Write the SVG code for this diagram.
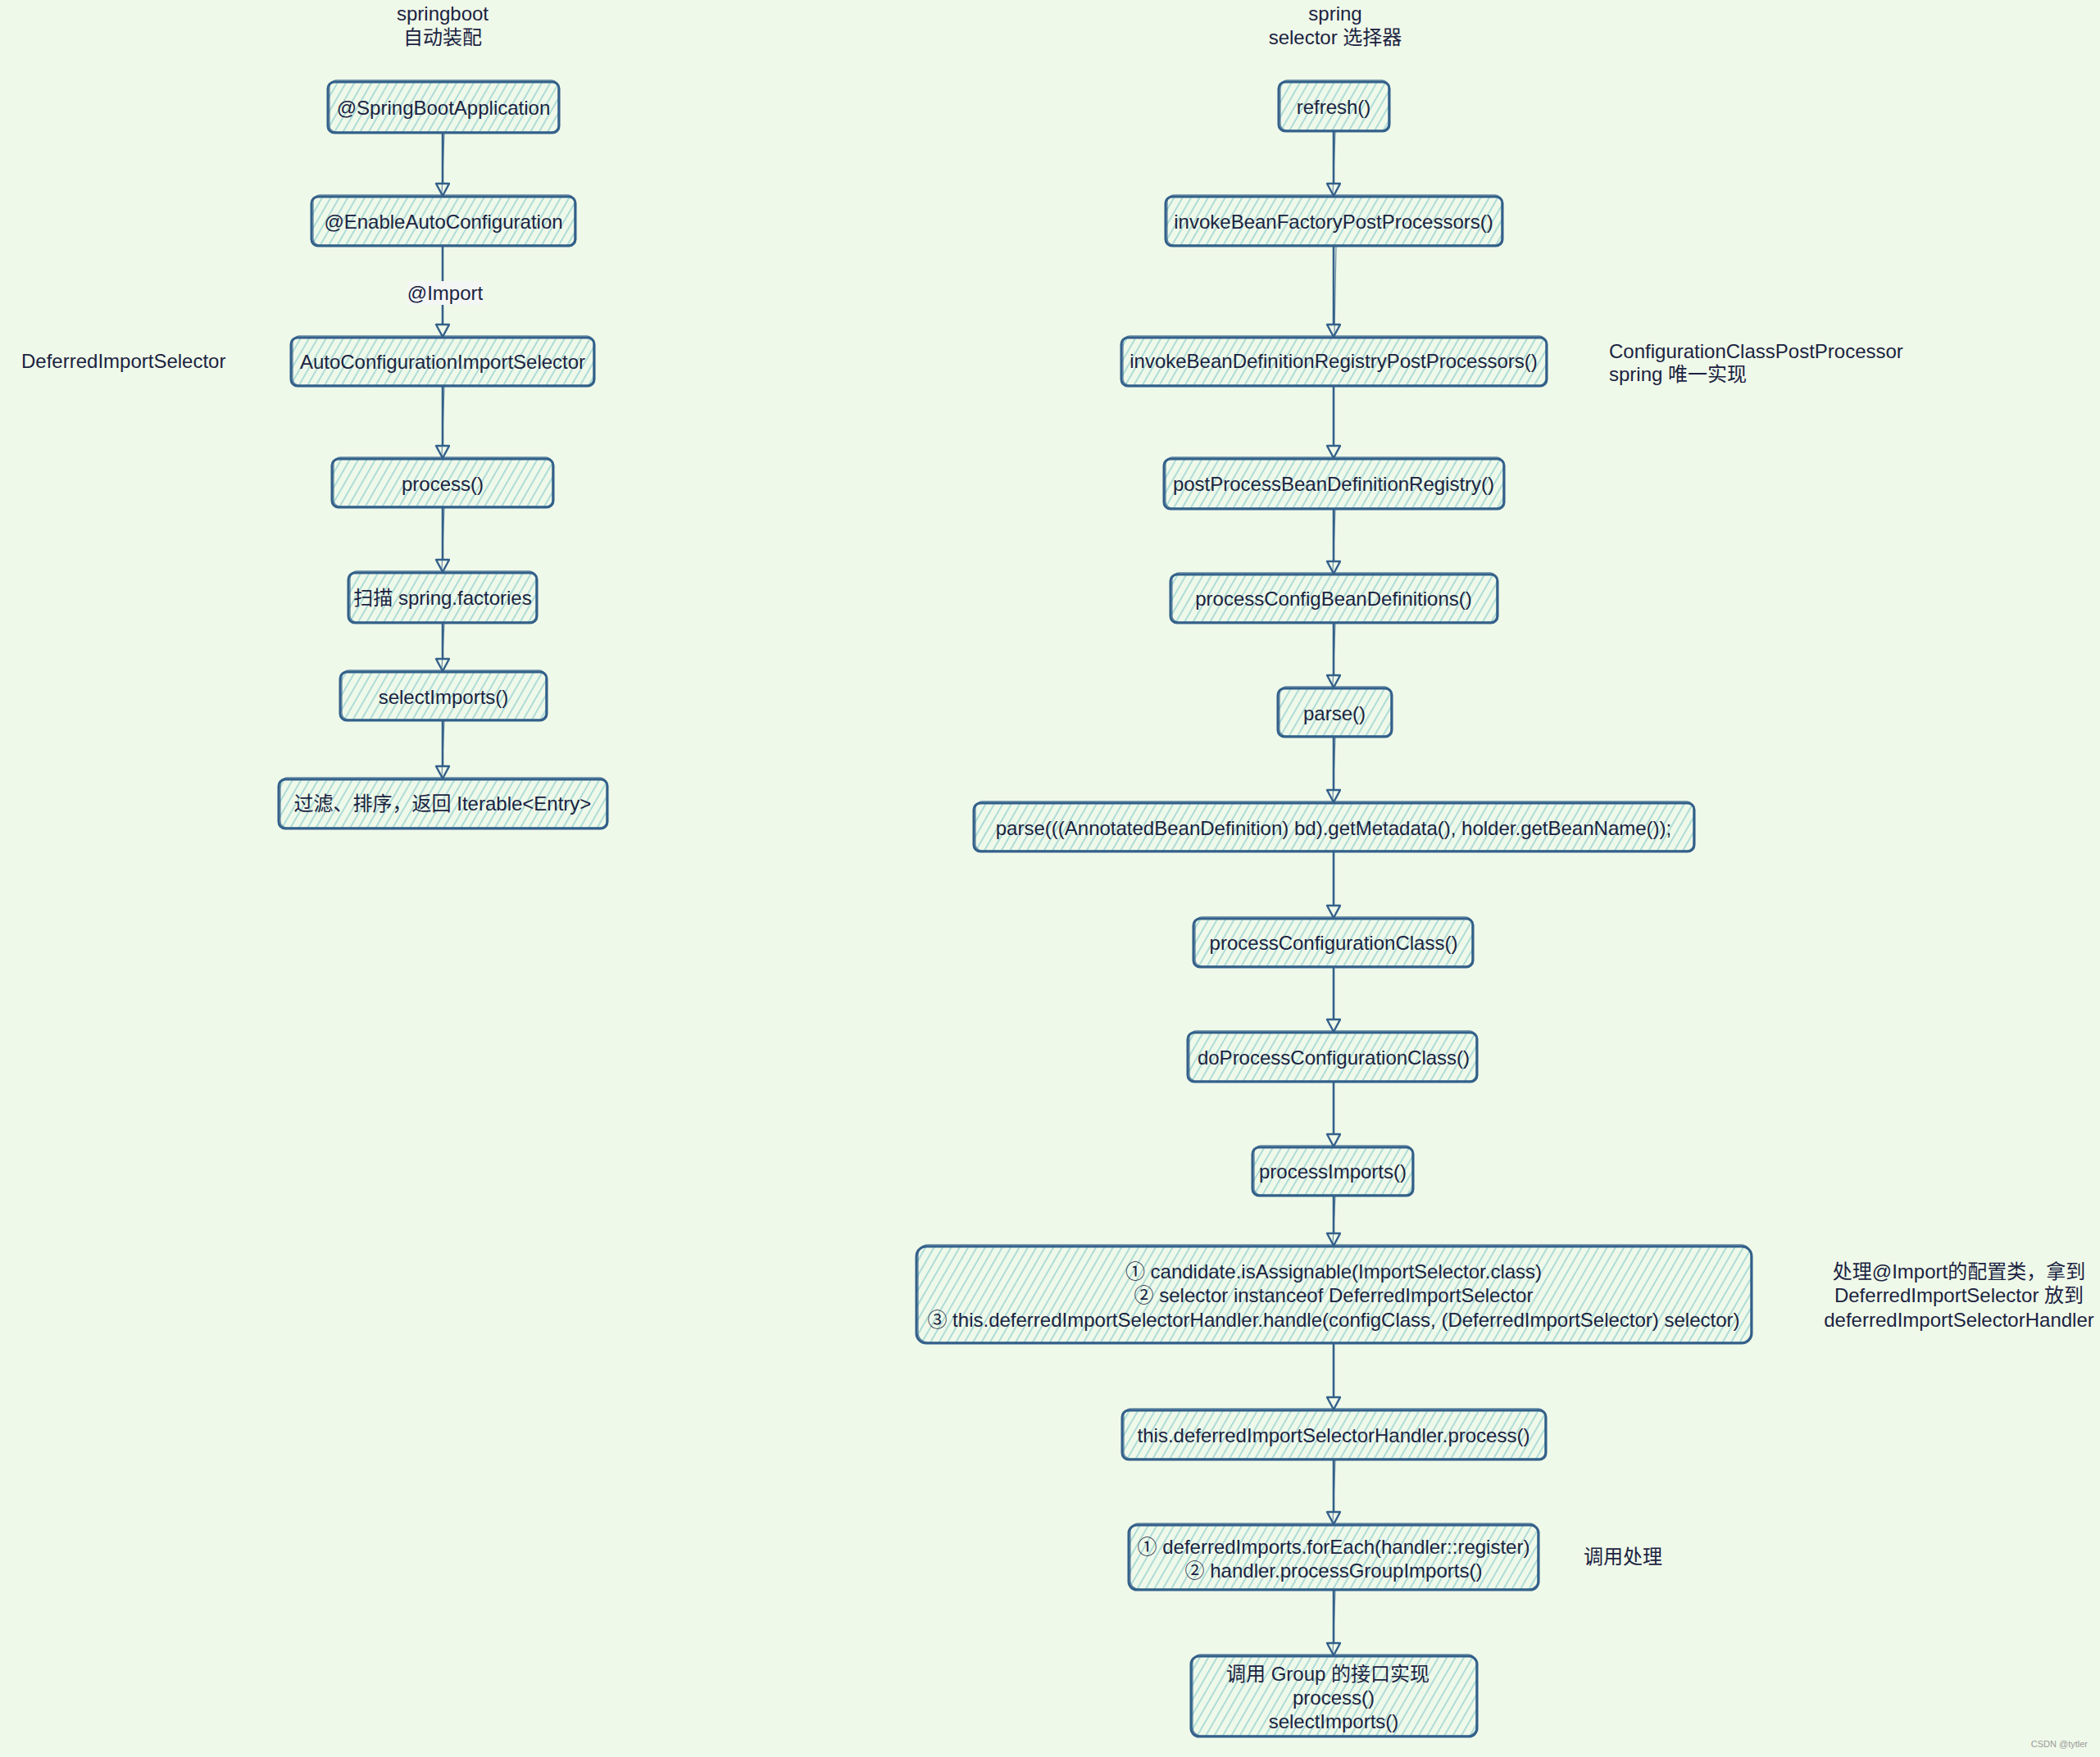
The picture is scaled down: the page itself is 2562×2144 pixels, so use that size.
<svg xmlns="http://www.w3.org/2000/svg" width="2562" height="2144" viewBox="0 0 2562 2144">
<defs>
<pattern id="hatch" patternUnits="userSpaceOnUse" width="9" height="9" patternTransform="rotate(30)">
<line x1="2" y1="0" x2="2" y2="9" stroke="#9dd5d3" stroke-width="1.6"/>
</pattern>
<marker id="arr" markerUnits="userSpaceOnUse" markerWidth="22" markerHeight="22" refX="17" refY="9" orient="auto">
<path d="M2,1 L17,9 L2,17 Z" fill="#eff9e9" stroke="#33608a" stroke-width="2.4" stroke-linejoin="round"/>
</marker>
<style>
.box{fill:url(#hatch);stroke:#33608a;stroke-width:3}
.sk{fill:none;stroke:#33608a;stroke-width:1.3;opacity:.75}
.t{font-family:"Liberation Sans","Noto Sans CJK SC",sans-serif;font-size:24px;fill:#1b2341;text-anchor:middle;dominant-baseline:central}
.l{text-anchor:start}
.c{fill:none;stroke:#33608a;stroke-width:2.6;marker-end:url(#arr)}
.c2{fill:none;stroke:#33608a;stroke-width:1.2;opacity:.7}
</style>
</defs>
<rect x="0" y="0" width="2562" height="2144" fill="#eff9e9"/>

<g id="titles">
<text class="t" x="540" y="16">springboot</text>
<text class="t" x="540" y="45">自动装配</text>
<text class="t" x="1629" y="16">spring</text>
<text class="t" x="1629" y="45">selector 选择器</text>
</g>

<g id="connectors">
<path class="c" d="M540,162 L540,239"/>
<path class="c2" d="M542,163 L539,236"/>
<path class="c" d="M540,300 L540,411"/>
<path class="c" d="M540,471 L540,559"/>
<path class="c2" d="M542,472 L539,556"/>
<path class="c" d="M540,619 L540,698"/>
<path class="c2" d="M542,620 L539,695"/>
<path class="c" d="M540,760 L540,819"/>
<path class="c2" d="M542,761 L539,816"/>
<path class="c" d="M540,879 L540,950"/>
<path class="c2" d="M542,880 L539,947"/>

<path class="c" d="M1627,160 L1627,239"/>
<path class="c2" d="M1629,161 L1626,236"/>
<path class="c" d="M1627,300 L1627,411"/>
<path class="c2" d="M1630,301 L1628,408"/>
<path class="c" d="M1627,471 L1627,559"/>
<path class="c" d="M1627,621 L1627,700"/>
<path class="c2" d="M1629,622 L1626,697"/>
<path class="c" d="M1627,760 L1627,839"/>
<path class="c2" d="M1629,761 L1626,836"/>
<path class="c" d="M1627,899 L1627,979"/>
<path class="c2" d="M1629,900 L1626,976"/>
<path class="c" d="M1627,1039 L1627,1120"/>
<path class="c" d="M1627,1180 L1627,1259"/>
<path class="c" d="M1627,1320 L1627,1399"/>
<path class="c" d="M1627,1459 L1627,1520"/>
<path class="c2" d="M1629,1460 L1626,1517"/>
<path class="c" d="M1627,1639 L1627,1720"/>
<path class="c" d="M1627,1781 L1627,1860"/>
<path class="c2" d="M1629,1782 L1626,1857"/>
<path class="c" d="M1627,1940 L1627,2020"/>
<path class="c2" d="M1629,1941 L1626,2017"/>

<rect x="497" y="343" width="92" height="29" fill="#f3f6f4"/>
<text class="t" x="543" y="357">@Import</text>
</g>

<g id="n1"><rect class="box" x="400" y="100" width="282" height="62" rx="8"/><rect class="sk" x="402" y="98" width="279" height="63" rx="8"/><text class="t" x="541" y="131">@SpringBootApplication</text></g>
<g id="n2"><rect class="box" x="380" y="240" width="322" height="60" rx="8"/><rect class="sk" x="382" y="238" width="319" height="61" rx="8"/><text class="t" x="541" y="270">@EnableAutoConfiguration</text></g>
<g id="n3"><rect class="box" x="355" y="412" width="370" height="59" rx="8"/><rect class="sk" x="357" y="410" width="367" height="60" rx="8"/><text class="t" x="540" y="441">AutoConfigurationImportSelector</text></g>
<g id="n4"><rect class="box" x="405" y="560" width="270" height="59" rx="8"/><rect class="sk" x="407" y="558" width="267" height="60" rx="8"/><text class="t" x="540" y="590">process()</text></g>
<g id="n5"><rect class="box" x="425" y="699" width="230" height="61" rx="8"/><rect class="sk" x="427" y="697" width="227" height="62" rx="8"/><text class="t" x="540" y="729">扫描 spring.factories</text></g>
<g id="n6"><rect class="box" x="415" y="820" width="252" height="59" rx="8"/><rect class="sk" x="417" y="818" width="249" height="60" rx="8"/><text class="t" x="541" y="850">selectImports()</text></g>
<g id="n7"><rect class="box" x="340" y="951" width="401" height="60" rx="8"/><rect class="sk" x="342" y="949" width="398" height="61" rx="8"/><text class="t" x="540" y="980">过滤、排序，返回 Iterable&lt;Entry&gt;</text></g>
<g id="lbl1"><text class="t l" x="26" y="440">DeferredImportSelector</text></g>

<g id="r1"><rect class="box" x="1560" y="100" width="135" height="60" rx="8"/><rect class="sk" x="1562" y="98" width="132" height="61" rx="8"/><text class="t" x="1627" y="130">refresh()</text></g>
<g id="r2"><rect class="box" x="1422" y="240" width="411" height="60" rx="8"/><rect class="sk" x="1424" y="238" width="408" height="61" rx="8"/><text class="t" x="1627" y="270">invokeBeanFactoryPostProcessors()</text></g>
<g id="r3"><rect class="box" x="1368" y="412" width="519" height="59" rx="8"/><rect class="sk" x="1370" y="410" width="516" height="60" rx="8"/><text class="t" x="1627" y="440">invokeBeanDefinitionRegistryPostProcessors()</text></g>
<g id="lbl2"><text class="t l" x="1963" y="428">ConfigurationClassPostProcessor</text><text class="t l" x="1963" y="456">spring 唯一实现</text></g>
<g id="r4"><rect class="box" x="1420" y="560" width="415" height="61" rx="8"/><rect class="sk" x="1422" y="558" width="412" height="62" rx="8"/><text class="t" x="1627" y="590">postProcessBeanDefinitionRegistry()</text></g>
<g id="r5"><rect class="box" x="1428" y="701" width="399" height="59" rx="8"/><rect class="sk" x="1430" y="699" width="396" height="60" rx="8"/><text class="t" x="1627" y="730">processConfigBeanDefinitions()</text></g>
<g id="r6"><rect class="box" x="1559" y="840" width="139" height="59" rx="8"/><rect class="sk" x="1561" y="838" width="136" height="60" rx="8"/><text class="t" x="1628" y="870">parse()</text></g>
<g id="r7"><rect class="box" x="1188" y="980" width="879" height="59" rx="8"/><rect class="sk" x="1190" y="978" width="876" height="60" rx="8"/><text class="t" x="1627" y="1010">parse(((AnnotatedBeanDefinition) bd).getMetadata(), holder.getBeanName());</text></g>
<g id="r8"><rect class="box" x="1456" y="1121" width="341" height="59" rx="8"/><rect class="sk" x="1458" y="1119" width="338" height="60" rx="8"/><text class="t" x="1627" y="1150">processConfigurationClass()</text></g>
<g id="r9"><rect class="box" x="1449" y="1260" width="353" height="60" rx="8"/><rect class="sk" x="1451" y="1258" width="350" height="61" rx="8"/><text class="t" x="1627" y="1290">doProcessConfigurationClass()</text></g>
<g id="r10"><rect class="box" x="1528" y="1400" width="196" height="59" rx="8"/><rect class="sk" x="1530" y="1398" width="193" height="60" rx="8"/><text class="t" x="1626" y="1429">processImports()</text></g>
<g id="r11"><rect class="box" x="1118" y="1521" width="1019" height="118" rx="12"/><rect class="sk" x="1120" y="1519" width="1016" height="119" rx="12"/>
<text class="t" x="1627" y="1551">① candidate.isAssignable(ImportSelector.class)</text>
<text class="t" x="1627" y="1580">② selector instanceof DeferredImportSelector</text>
<text class="t" x="1627" y="1610">③ this.deferredImportSelectorHandler.handle(configClass, (DeferredImportSelector) selector)</text></g>
<g id="lbl3"><text class="t" x="2390" y="1551">处理@Import的配置类，拿到</text><text class="t" x="2390" y="1580">DeferredImportSelector 放到</text><text class="t" x="2390" y="1610">deferredImportSelectorHandler</text></g>
<g id="r12"><rect class="box" x="1369" y="1721" width="517" height="60" rx="8"/><rect class="sk" x="1371" y="1719" width="514" height="61" rx="8"/><text class="t" x="1627" y="1751">this.deferredImportSelectorHandler.process()</text></g>
<g id="r13"><rect class="box" x="1377" y="1861" width="500" height="79" rx="10"/><rect class="sk" x="1379" y="1859" width="497" height="80" rx="10"/>
<text class="t" x="1627" y="1887">① deferredImports.forEach(handler::register)</text>
<text class="t" x="1627" y="1916">② handler.processGroupImports()</text></g>
<g id="lbl4"><text class="t" x="1980" y="1899">调用处理</text></g>
<g id="r14"><rect class="box" x="1453" y="2021" width="349" height="98" rx="10"/><rect class="sk" x="1455" y="2019" width="346" height="99" rx="10"/>
<text class="t" x="1620" y="2042">调用 Group 的接口实现</text>
<text class="t" x="1627" y="2071">process()</text>
<text class="t" x="1627" y="2100">selectImports()</text></g>

<text x="2547" y="2128" font-family="Liberation Sans, sans-serif" font-size="11" fill="#9a9a9a" text-anchor="end" dominant-baseline="central">CSDN @tytler</text>
</svg>
